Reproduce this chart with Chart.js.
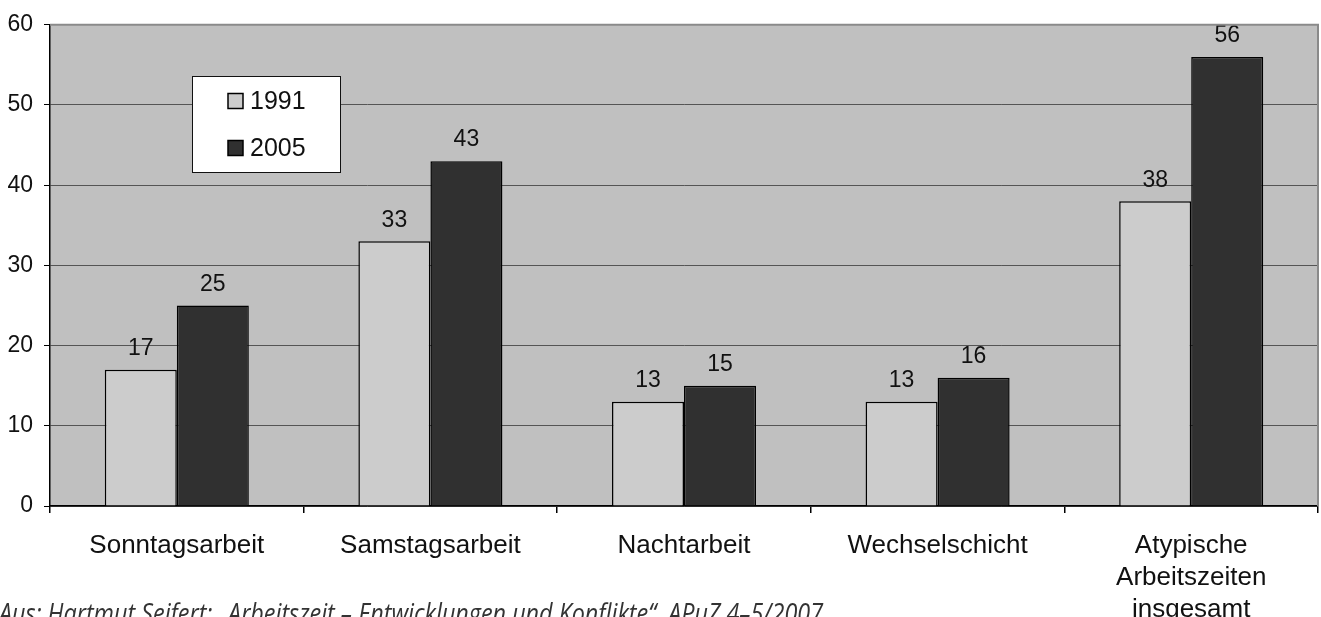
<!DOCTYPE html>
<html lang="de">
<head>
    <meta charset="UTF-8">
    <title>Atypische Arbeitszeiten</title>
    <script src="https://cdn.jsdelivr.net/npm/chart.js"></script>
    <style>
        body { margin: 0; background: #fff; }
        #wrap { width: 1321px; height: 617px; position: relative; }
    </style>
</head>
<body>
    <div id="wrap"><canvas id="workChart"></canvas></div>

    <script>
        const categories = ['Sonntagsarbeit', 'Samstagsarbeit', 'Nachtarbeit', 'Wechselschicht',
            ['Atypische', 'Arbeitszeiten', 'insgesamt']];
        const values1991 = [17, 33, 13, 13, 38];
        const values2005 = [25, 43, 15, 16, 56];
        const yTicks = [0, 10, 20, 30, 40, 50, 60];
        const sourceNote = 'Aus: Hartmut Seifert: \u201eArbeitszeit \u2013 Entwicklungen und Konflikte\u201c, APuZ 4\u20135/2007';

        const FONT = "'Liberation Sans', Arial, sans-serif";

        // grey plot area plus the thin frame on top and right
        const plotBackground = {
            id: 'plotBackground',
            beforeDraw(chart) {
                const { ctx, chartArea: a } = chart;
                ctx.save();
                ctx.fillStyle = '#c0c0c0';
                ctx.fillRect(a.left, a.top, a.right - a.left, a.bottom - a.top);
                ctx.restore();
            },
            afterDraw(chart) {
                const { ctx, chartArea: a } = chart;
                ctx.save();
                ctx.strokeStyle = '#8a8a8a';
                ctx.lineWidth = 2;
                ctx.beginPath();
                ctx.moveTo(a.left, a.top);
                ctx.lineTo(a.right, a.top);
                ctx.lineTo(a.right, a.bottom);
                ctx.stroke();
                ctx.restore();
            }
        };

        // numbers above the bars
        const valueLabels = {
            id: 'valueLabels',
            afterDatasetsDraw(chart) {
                const ctx = chart.ctx;
                ctx.save();
                ctx.font = '23px ' + FONT;
                ctx.fillStyle = '#111';
                ctx.textAlign = 'center';
                ctx.textBaseline = 'middle';
                chart.data.datasets.forEach((ds, i) => {
                    chart.getDatasetMeta(i).data.forEach((bar, j) => {
                        ctx.fillText(ds.data[j], bar.x, bar.y - 21);
                    });
                });
                ctx.restore();
            }
        };

        // boxed legend inside the plot
        const boxLegend = {
            id: 'boxLegend',
            afterDraw(chart) {
                const ctx = chart.ctx;
                ctx.save();
                ctx.fillStyle = '#fff';
                ctx.fillRect(192.5, 76.5, 148, 96);
                ctx.strokeStyle = '#111';
                ctx.lineWidth = 1;
                ctx.strokeRect(192.5, 76.5, 148, 96);
                ctx.font = '25px ' + FONT;
                ctx.textBaseline = 'middle';
                chart.data.datasets.forEach((ds, i) => {
                    const cy = 101 + i * 47;
                    ctx.fillStyle = ds.backgroundColor;
                    ctx.fillRect(228, cy - 7.5, 15, 15);
                    ctx.lineWidth = 1.5;
                    ctx.strokeStyle = '#000';
                    ctx.strokeRect(228, cy - 7.5, 15, 15);
                    ctx.fillStyle = '#111';
                    ctx.fillText(ds.label, 250, cy + 1);
                });
                ctx.restore();
            }
        };

        // source line at the bottom, partly cut off (squeezed a bit, the original face is narrower)
        const footNote = {
            id: 'footNote',
            afterDraw(chart) {
                const ctx = chart.ctx;
                const squeeze = 0.87;
                ctx.save();
                ctx.font = "italic 20px 'Open Sans', sans-serif";
                const w = ctx.measureText(sourceNote).width;
                const size = 20 * 824 / (w * squeeze);
                ctx.font = "italic " + size.toFixed(2) + "px 'Open Sans', sans-serif";
                ctx.fillStyle = '#333';
                ctx.textBaseline = 'alphabetic';
                ctx.translate(-1, 623);
                ctx.scale(squeeze, 1);
                ctx.fillText(sourceNote, 0, 0);
                ctx.restore();
            }
        };

        const ctx = document.getElementById('workChart').getContext('2d');
        new Chart(ctx, {
            type: 'bar',
            data: {
                labels: categories,
                datasets: [
                    {
                        label: '1991',
                        data: values1991,
                        backgroundColor: '#cccccc',
                        borderColor: '#000',
                        borderWidth: 1.5
                    },
                    {
                        label: '2005',
                        data: values2005,
                        backgroundColor: '#303030',
                        borderColor: '#000',
                        borderWidth: 1.5
                    }
                ]
            },
            options: {
                responsive: true,
                maintainAspectRatio: false,
                animation: false,
                categoryPercentage: 0.568,
                barPercentage: 1.0,
                layout: { padding: { top: 24, right: 3, left: 0, bottom: 0 } },
                plugins: {
                    legend: { display: false },
                    tooltip: { enabled: false }
                },
                scales: {
                    x: {
                        afterFit(scale) { scale.height = 111; },
                        grid: {
                            offset: true,
                            drawOnChartArea: false,
                            drawTicks: true,
                            tickLength: 7,
                            color: '#000',
                            lineWidth: 1.5
                        },
                        border: { color: '#000', width: 1.5 },
                        ticks: {
                            color: '#111',
                            padding: 17,
                            font: { family: FONT, size: 26, lineHeight: 1.23 }
                        }
                    },
                    y: {
                        min: 0,
                        max: 60,
                        afterFit(scale) { scale.width = 50; },
                        afterBuildTicks(scale) {
                            scale.ticks = yTicks.map(v => ({ value: v }));
                        },
                        grid: {
                            color: '#555',
                            lineWidth: 1,
                            tickLength: 6,
                            tickColor: '#000'
                        },
                        border: { color: '#000', width: 1.5 },
                        ticks: {
                            color: '#111',
                            padding: 11,
                            font: { family: FONT, size: 23 }
                        }
                    }
                }
            },
            plugins: [plotBackground, valueLabels, boxLegend, footNote]
        });
    </script>
</body>
</html>
